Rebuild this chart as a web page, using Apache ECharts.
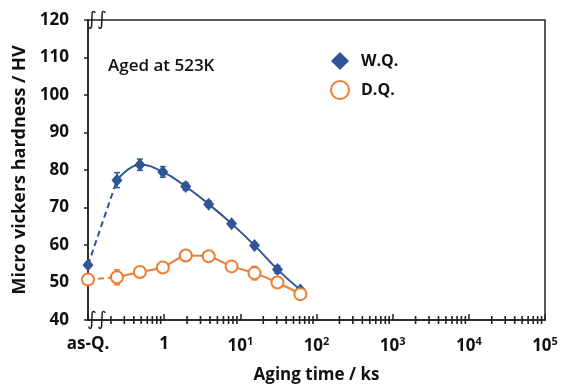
<!DOCTYPE html>
<html>
<head>
<meta charset="utf-8">
<script src="https://cdn.jsdelivr.net/npm/echarts@6/dist/echarts.min.js"></script>
<style>
    html, body { margin: 0; padding: 0; background: #fff; }
    #app { width: 568px; height: 386px; }
</style>
</head>
<body>
<div id="app"></div>
<script>
// as-quenched state is plotted at the left end of the log axis
const asQTime = 0.1;
const agingTimes = [0.24, 0.48, 0.96, 1.92, 3.84, 7.68, 15.36, 30.72, 61.44];

const wqAsQ = 54.7;
const wqAsQErr = 0.6;
const wqHardness = [77.3, 81.4, 79.5, 75.6, 70.9, 65.7, 59.9, 53.5, 48.0];
const wqErr = [2.0, 1.5, 1.4, 1.0, 0.8, 0.6, 0.6, 1.0, 0.6];

const dqAsQ = 50.8;
const dqAsQErr = 0.8;
const dqHardness = [51.4, 52.8, 54.0, 57.2, 57.0, 54.3, 52.5, 50.0, 46.9];
const dqErr = [2.0, 0.5, 0.6, 0.6, 0.5, 0.6, 1.8, 0.6, 0.5];

const yMin = 40, yMax = 120, yStep = 10;
const xMin = 0.1, xMax = 100000;
const minorSteps = [2, 3, 4, 5, 6, 7, 8, 9];
const decades = [0.1, 1, 10, 100, 1000, 10000];

const BLUE = '#2F5597';
const ORANGE = '#ED7D31';
const FONT = '"Open Sans", "Liberation Sans", sans-serif';

const chart = echarts.init(document.getElementById('app'));

const minorTicks = [];
decades.forEach(d => minorSteps.forEach(s => minorTicks.push([d * s, yMin])));

const errData = (xs, ys, es) => xs.map((x, i) => [x, ys[i] - es[i], ys[i] + es[i]]);

const errorBars = (name, color, data) => ({
    type: 'custom',
    name: name + '-err',
    silent: true,
    z: 3,
    encode: {x: 0, y: [1, 2]},
    renderItem: (params, api) => {
        const lo = api.coord([api.value(0), api.value(1)]);
        const hi = api.coord([api.value(0), api.value(2)]);
        const cap = 3;
        const style = {stroke: color, lineWidth: 1.5};
        return {
            type: 'group',
            children: [
                {type: 'line', shape: {x1: lo[0], y1: lo[1], x2: hi[0], y2: hi[1]}, style},
                {type: 'line', shape: {x1: lo[0] - cap, y1: lo[1], x2: lo[0] + cap, y2: lo[1]}, style},
                {type: 'line', shape: {x1: hi[0] - cap, y1: hi[1], x2: hi[0] + cap, y2: hi[1]}, style}
            ]
        };
    },
    data: data
});

const supLabel = v => {
    const p = Math.round(Math.log10(v));
    if (p === -1) return 'as-Q.';
    if (p === 0) return '1';
    return '10{sup|' + p + '}';
};

const breakMark = y => ({
    type: 'text', x: 97, y: y, z: 10,
    style: {
        text: '\u222B\u222B', fontSize: 19, fill: '#222', fontFamily: '"DejaVu Sans", sans-serif',
        align: 'center', verticalAlign: 'middle'
    }
});

const option = {
    animation: false,
    textStyle: {fontFamily: FONT},
    grid: {
        left: 88, right: 23, top: 20, bottom: 66,
        show: true, borderColor: '#222', borderWidth: 1.5,
        outerBoundsMode: 'none'
    },
    legend: {
        orient: 'vertical',
        left: 325,
        top: 47,
        itemWidth: 18,
        itemHeight: 18,
        itemGap: 10,
        data: ['W.Q.', 'D.Q.'],
        textStyle: {fontSize: 16, fontWeight: 'bold', color: '#111', fontFamily: FONT, padding: [0, 0, 0, 7]}
    },
    graphic: [
        {type: 'text', left: 108, top: 58, style: {text: 'Aged at 523K', fontSize: 17, fontWeight: 600, fill: '#111', fontFamily: FONT}},
        breakMark(20),
        breakMark(320)
    ],
    xAxis: {
        type: 'log',
        min: xMin,
        max: xMax,
        logBase: 10,
        name: 'Aging time / ks',
        nameLocation: 'middle',
        nameGap: 47,
        nameTextStyle: {fontSize: 17, fontWeight: 'bold', color: '#111'},
        splitLine: {show: false},
        axisLine: {show: true, lineStyle: {color: '#222', width: 1.5}},
        axisTick: {show: true, inside: true, length: 6, lineStyle: {color: '#222', width: 1.5}},
        axisLabel: {
            margin: 16,
            fontSize: 17,
            fontWeight: 'bold',
            color: '#111',
            formatter: supLabel,
            rich: {
                sup: {fontSize: 11, fontWeight: 'bold', color: '#111', verticalAlign: 'bottom', padding: [0, 0, 9, 0]}
            }
        }
    },
    yAxis: {
        type: 'value',
        min: yMin,
        max: yMax,
        interval: yStep,
        name: 'Micro vickers hardness / HV',
        nameLocation: 'middle',
        nameGap: 52,
        nameTextStyle: {fontSize: 18, fontWeight: 'bold', color: '#111'},
        splitLine: {show: false},
        axisLine: {show: true, lineStyle: {color: '#222', width: 1.5}},
        axisTick: {show: true, inside: false, length: 4, lineStyle: {color: '#222', width: 1.5}},
        axisLabel: {margin: 19, fontSize: 17, fontWeight: 'bold', color: '#111'}
    },
    series: [
        {
            // minor ticks of the log axis, standing on the x axis line
            type: 'scatter',
            name: 'minor-ticks',
            silent: true,
            clip: false,
            z: 5,
            symbol: 'rect',
            symbolSize: [1.6, 8],
            itemStyle: {color: '#222', opacity: 1},
            data: minorTicks
        },
        {
            type: 'line', name: 'wq-dash', silent: true, symbol: 'none',
            lineStyle: {color: BLUE, width: 2, type: [6, 4]},
            data: [[asQTime, wqAsQ], [agingTimes[0], wqHardness[0]]]
        },
        {
            type: 'line', name: 'wq-fit', silent: true, symbol: 'none', smooth: 0.45,
            lineStyle: {color: BLUE, width: 2},
            data: agingTimes.map((t, i) => [t, wqHardness[i]])
        },
        {
            type: 'line', name: 'dq-dash', silent: true, symbol: 'none',
            lineStyle: {color: ORANGE, width: 2, type: [6, 4]},
            data: [[asQTime, dqAsQ], [agingTimes[0], dqHardness[0]]]
        },
        {
            type: 'line', name: 'dq-fit', silent: true, symbol: 'none', smooth: 0.2,
            lineStyle: {color: ORANGE, width: 2},
            data: agingTimes.map((t, i) => [t, dqHardness[i]])
        },
        errorBars('W.Q.', BLUE, errData([asQTime].concat(agingTimes), [wqAsQ].concat(wqHardness), [wqAsQErr].concat(wqErr))),
        errorBars('D.Q.', ORANGE, errData([asQTime].concat(agingTimes), [dqAsQ].concat(dqHardness), [dqAsQErr].concat(dqErr))),
        {
            type: 'scatter', name: 'W.Q.', symbol: 'diamond', symbolSize: [11, 13], z: 4,
            itemStyle: {color: BLUE, opacity: 1},
            data: [[asQTime, wqAsQ]].concat(agingTimes.map((t, i) => [t, wqHardness[i]]))
        },
        {
            type: 'scatter', name: 'D.Q.', symbol: 'circle', symbolSize: 12, z: 4,
            itemStyle: {color: '#fff', borderColor: ORANGE, borderWidth: 2, opacity: 1},
            data: [[asQTime, dqAsQ]].concat(agingTimes.map((t, i) => [t, dqHardness[i]]))
        }
    ]
};

chart.setOption(option);
addEventListener('resize', () => chart.resize());
</script>
</body>
</html>
